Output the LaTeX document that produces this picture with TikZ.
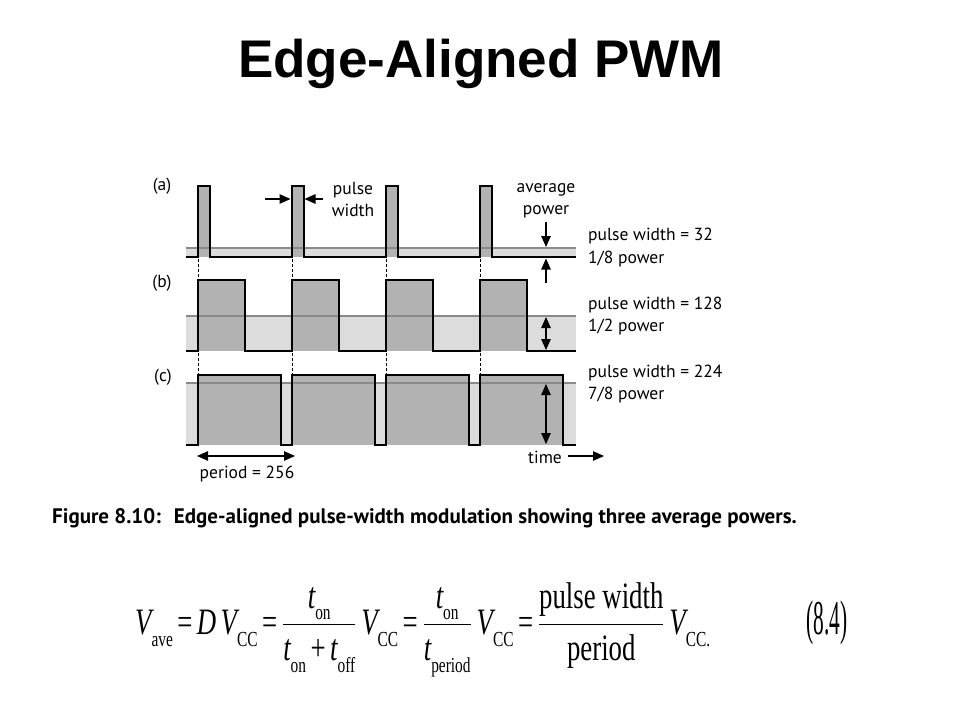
\documentclass[tikz,border=0pt]{standalone}
\usepackage{fontspec}
\usepackage{graphicx}
\setmainfont{Liberation Serif}
\newfontfamily\titlefont{Liberation Sans}
\newfontfamily\labelfont{PT Sans}
\newfontfamily\eqfont{Liberation Serif}
\usetikzlibrary{arrows.meta}
\definecolor{bandgray}{HTML}{DCDCDC}
\definecolor{pulsegray}{HTML}{B2B2B2}
\definecolor{avggray}{HTML}{8A8A8A}
\newcommand{\lsub}[1]{\raisebox{-0.32em}{\fontsize{11.5}{12}\selectfont\upshape #1}}
\begin{document}
\begin{tikzpicture}[x=1pt,y=-1pt,
  wave/.style={line width=2.2pt, line join=miter},
  lbl/.style={font=\labelfont\fontsize{17.5}{22}\selectfont, inner sep=0pt},
  arr/.style={line width=1.2pt, -{Triangle[length=11pt,width=9.5pt]}},
  darr/.style={line width=1.2pt, {Triangle[length=11pt,width=9.5pt]}-{Triangle[length=11pt,width=9.5pt]}},
  guide/.style={line width=0.8pt, dash pattern=on 3pt off 2pt}
]
\useasboundingbox[fill=white] (0,0) rectangle (960,720);

% title
\node[font=\titlefont\bfseries\fontsize{53}{60}\selectfont, anchor=base, inner sep=0pt] (title) at (481,77) {Edge-Aligned PWM};

% waveforms
\foreach \yt/\ya/\yb/\pw in {186/248/257/12, 280/316/351/47, 375/383/445/83} {
  \fill[bandgray] (186,\ya) rectangle (576,\yb);
  \foreach \p in {198,292,386,480} \fill[pulsegray] (\p,\yt) rectangle ({\p+\pw},\yb);
  \draw[avggray, line width=1.5pt] (186,\ya) -- (576,\ya);
  \draw[wave] (186,\yb) \foreach \p in {198,292,386,480} { -- (\p,\yb) -- (\p,\yt) -- ({\p+\pw},\yt) -- ({\p+\pw},\yb) } -- (576,\yb);
}
\foreach \p in {198,292,386,480} {
  \draw[guide] (\p,258.5) -- (\p,279);
  \draw[guide] (\p,352.5) -- (\p,374);
}

% row labels
\node[lbl] (la) at (162,186) {(a)};
\node[lbl] (lb) at (162,283) {(b)};
\node[lbl] (lc) at (163,377) {(c)};

% pulse width
\node[lbl, align=center] (pw) at (353,199) {pulse\\width};
\coordinate (pwl0) at (265,199); \coordinate (pwl1) at (290.5,199);
\coordinate (pwr0) at (323,199); \coordinate (pwr1) at (304.5,199);
\draw[arr] (pwl0) -- (pwl1);
\draw[arr] (pwr0) -- (pwr1);

% average power
\node[lbl, align=center] (ap) at (546,201) {average\\power};
\coordinate (ava0) at (546,222); \coordinate (ava1) at (546,247);
\coordinate (avb0) at (546,283); \coordinate (avb1) at (546,258.5);
\draw[arr] (ava0) -- (ava1);
\draw[arr] (avb0) -- (avb1);
\coordinate (db0) at (546,317); \coordinate (db1) at (546,350);
\draw[darr] (db0) -- (db1);
\coordinate (dc0) at (546,384); \coordinate (dc1) at (546,444);
\draw[darr] (dc0) -- (dc1);

% right labels
\node[lbl, anchor=west] (ra1) at (588,236) {pulse width = 32};
\node[lbl, anchor=west] (ra2) at (588,259) {1/8 power};
\node[lbl, anchor=west] (rb1) at (588,305) {pulse width = 128};
\node[lbl, anchor=west] (rb2) at (588,327) {1/2 power};
\node[lbl, anchor=west] (rc1) at (588,373) {pulse width = 224};
\node[lbl, anchor=west] (rc2) at (588,395) {7/8 power};

% time and period
\node[lbl] (time) at (545,457) {time};
\coordinate (t0) at (568,456); \coordinate (t1) at (604,456);
\draw[arr] (t0) -- (t1);
\coordinate (per0) at (197,456); \coordinate (per1) at (295,456);
\draw[darr] (per0) -- (per1);
\node[lbl] (per) at (247,474) {period = 256};

% caption
\node[font=\labelfont\bfseries\fontsize{21}{25}\selectfont, anchor=base west, inner sep=0pt] (cap) at (52,523) {Figure 8.10:\hspace{13pt}Edge-aligned pulse-width modulation showing three average powers.};

% equation
\node[anchor=north west, inner sep=0pt] (eq) at (135,582) {\resizebox*{575pt}{95pt}{\eqfont\fontsize{20}{24}\selectfont
{\itshape V}\lsub{ave}\,=\,{\itshape D\,V}\lsub{CC}\,=\,$\displaystyle\frac{\mbox{\itshape t\lsub{on}}}{\mbox{\itshape t\lsub{on}\,\upshape+\,\itshape t\lsub{off}}}$\,{\itshape V}\lsub{CC}\,=\,$\displaystyle\frac{\mbox{\itshape t\lsub{on}}}{\mbox{\itshape t\lsub{period}}}$\,{\itshape V}\lsub{CC}\,=\,$\displaystyle\frac{\mbox{pulse width}}{\mbox{period}}$\,{\itshape V}\lsub{CC.}}};
\node (eqn) at (827,623) {\resizebox*{41pt}{44pt}{\eqfont (8.4)}};
\end{tikzpicture}
\end{document}
